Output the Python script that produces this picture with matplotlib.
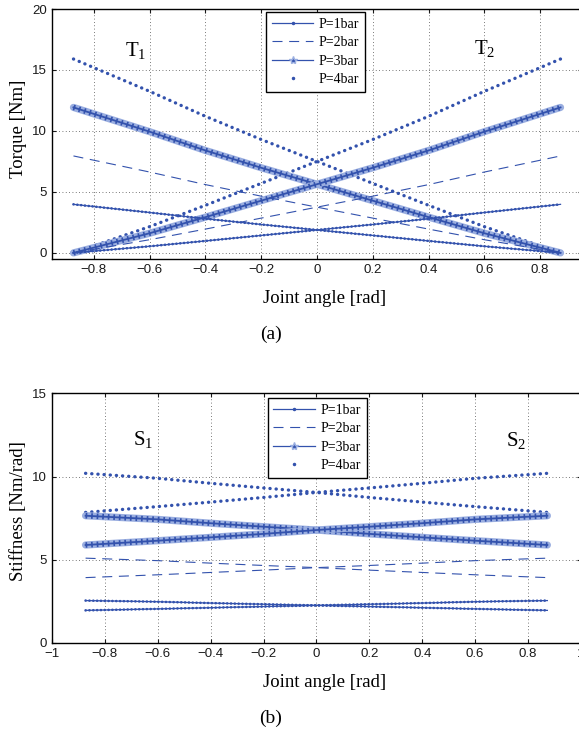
#imports
import numpy as np
import matplotlib
matplotlib.use("Agg")
import matplotlib.pyplot as plt
from matplotlib.lines import Line2D
from matplotlib.ticker import FuncFormatter

#values (joint angle in rad)
theta = [-0.873, -0.6, -0.4, -0.2, 0.0, 0.2, 0.4, 0.6, 0.873]

#torque T1 (falling) and T2 (rising) [Nm]
t1_p1 = [3.98, 3.31, 2.80, 2.33, 1.88, 1.43, 0.98, 0.54, 0.0]
t1_p2 = [7.95, 6.63, 5.60, 4.65, 3.75, 2.85, 1.95, 1.08, 0.0]
t1_p3 = [11.93, 9.94, 8.40, 6.98, 5.63, 4.28, 2.93, 1.61, 0.0]
t1_p4 = [15.9, 13.25, 11.2, 9.3, 7.5, 5.7, 3.9, 2.15, 0.0]
t2_p1 = [0.0, 0.54, 0.98, 1.43, 1.88, 2.33, 2.80, 3.31, 3.98]
t2_p2 = [0.0, 1.08, 1.95, 2.85, 3.75, 4.65, 5.60, 6.63, 7.95]
t2_p3 = [0.0, 1.61, 2.93, 4.28, 5.63, 6.98, 8.40, 9.94, 11.93]
t2_p4 = [0.0, 2.15, 3.9, 5.7, 7.5, 9.3, 11.2, 13.25, 15.9]

#stiffness S1 (falling) and S2 (rising) [Nm/rad]
s1_p1 = [2.55, 2.48, 2.40, 2.33, 2.26, 2.19, 2.12, 2.05, 1.96]
s1_p2 = [5.10, 4.95, 4.80, 4.66, 4.53, 4.38, 4.24, 4.10, 3.93]
s1_p3 = [7.65, 7.43, 7.20, 6.99, 6.79, 6.56, 6.35, 6.15, 5.89]
s1_p4 = [10.2, 9.9, 9.6, 9.32, 9.05, 8.75, 8.47, 8.2, 7.85]
s2_p1 = [1.96, 2.05, 2.12, 2.19, 2.26, 2.33, 2.40, 2.48, 2.55]
s2_p2 = [3.93, 4.10, 4.24, 4.38, 4.53, 4.66, 4.80, 4.95, 5.10]
s2_p3 = [5.89, 6.15, 6.35, 6.56, 6.79, 6.99, 7.20, 7.43, 7.65]
s2_p4 = [7.85, 8.2, 8.47, 8.75, 9.05, 9.32, 9.6, 9.9, 10.2]

labels = ["P=1bar", "P=2bar", "P=3bar", "P=4bar"]

#styles
blue = "#3352ad"
light = "#9aaee0"
serif = "Liberation Serif"
plt.rcParams["mathtext.fontset"] = "custom"
plt.rcParams["mathtext.rm"] = serif
plt.rcParams["font.family"] = "Liberation Sans"


def draw_p1(ax, y):
	ax.plot(theta, y, color=blue, lw=0.9)
	ax.plot(theta, y, color=blue, lw=1.9, ls=(0, (0.05, 1.4)), dash_capstyle="round")

def draw_p2(ax, y):
	ax.plot(theta, y, color=blue, lw=0.8, ls=(0, (9, 6)))

def draw_p3(ax, y):
	ax.plot(theta, y, color=light, lw=5.2, solid_capstyle="round")
	ax.plot(theta, y, color=blue, lw=4.0, ls=(0, (0.3, 0.7)))
	ax.plot(theta, y, color=blue, lw=1.3)

def draw_p4(ax, y):
	ax.plot(theta, y, color=blue, lw=2.4, ls=(0, (0.05, 1.8)), dash_capstyle="round")


def fmt(v, _):
	if abs(v) < 1e-9:
		return "0"
	return ("%g" % round(v, 2)).replace("-", "\u2212")


def style(ax):
	ax.set_axisbelow(True)
	ax.grid(True, color="0.3", lw=0.6, ls=(0, (1, 3)))
	ax.tick_params(direction="in", top=True, right=True, length=3, width=0.8,
		labelsize=9.5, colors="0.1")
	for sp in ax.spines.values():
		sp.set_linewidth(1.0)
	ax.xaxis.set_major_formatter(FuncFormatter(fmt))
	ax.yaxis.set_major_formatter(FuncFormatter(fmt))
	handles = [
		Line2D([], [], color=blue, lw=0.9, marker=".", ms=3),
		Line2D([], [], color=blue, lw=0.8, ls=(0, (9, 6))),
		Line2D([], [], color=blue, lw=0.9, marker="*", ms=6, mec=light, mfc=blue),
		Line2D([], [], color=blue, lw=0, marker=".", ms=3),
	]
	return handles


fig = plt.figure(figsize=(5.79, 7.33), dpi=100)

#(a) torque
ax1 = fig.add_axes([0.0898, 0.6467, 0.9154, 0.341])
draw_p4(ax1, t1_p4); draw_p4(ax1, t2_p4)
draw_p3(ax1, t1_p3); draw_p3(ax1, t2_p3)
draw_p2(ax1, t1_p2); draw_p2(ax1, t2_p2)
draw_p1(ax1, t1_p1); draw_p1(ax1, t2_p1)
ax1.set_xlim(-0.95, 0.95)
ax1.set_ylim(-0.5, 20)
ax1.set_xticks(np.arange(-0.8, 0.81, 0.2))
ax1.set_yticks([0, 5, 10, 15, 20])
h = style(ax1)
ax1.set_xlabel("Joint angle [rad]", family=serif, fontsize=13.5)
ax1.xaxis.set_label_coords(0.515, -0.125)
ax1.set_ylabel("Torque [Nm]", family=serif, fontsize=13.5)
ax1.yaxis.set_label_coords(-0.047, 0.52)
ax1.text(-0.688, 16.1, "T$_1$", family=serif, fontsize=15, va="baseline")
ax1.text(0.563, 16.25, "T$_2$", family=serif, fontsize=15, va="baseline")
leg = ax1.legend(h, labels, loc="upper left", bbox_to_anchor=(0.404, 0.988),
	prop={"family": serif, "size": 10}, handlelength=3.0, labelspacing=0.4,
	borderpad=0.4, handletextpad=0.4, fancybox=False, framealpha=1, borderaxespad=0)
leg.get_frame().set_edgecolor("black")
leg.get_frame().set_linewidth(1.0)
fig.text(0.468, 0.544, "(a)", family=serif, fontsize=14, ha="center", va="center")

#(b) stiffness
ax2 = fig.add_axes([0.0898, 0.1228, 0.9136, 0.3404])
draw_p4(ax2, s1_p4); draw_p4(ax2, s2_p4)
draw_p3(ax2, s1_p3); draw_p3(ax2, s2_p3)
draw_p2(ax2, s1_p2); draw_p2(ax2, s2_p2)
draw_p1(ax2, s1_p1); draw_p1(ax2, s2_p1)
ax2.set_xlim(-1, 1)
ax2.set_ylim(0, 15)
ax2.set_xticks(np.arange(-1, 1.01, 0.2))
ax2.set_yticks([0, 5, 10, 15])
h = style(ax2)
ax2.set_xlabel("Joint angle [rad]", family=serif, fontsize=13.5)
ax2.xaxis.set_label_coords(0.515, -0.125)
ax2.set_ylabel("Stiffness [Nm/rad]", family=serif, fontsize=13.5)
ax2.yaxis.set_label_coords(-0.047, 0.53)
ax2.text(-0.692, 11.9, "S$_1$", family=serif, fontsize=15, va="baseline")
ax2.text(0.715, 11.8, "S$_2$", family=serif, fontsize=15, va="baseline")
leg = ax2.legend(h, labels, loc="upper left", bbox_to_anchor=(0.408, 0.982),
	prop={"family": serif, "size": 10}, handlelength=3.0, labelspacing=0.4,
	borderpad=0.4, handletextpad=0.4, fancybox=False, framealpha=1, borderaxespad=0)
leg.get_frame().set_edgecolor("black")
leg.get_frame().set_linewidth(1.0)
fig.text(0.468, 0.02, "(b)", family=serif, fontsize=14, ha="center", va="center")

plt.savefig("out.png", dpi=100)
